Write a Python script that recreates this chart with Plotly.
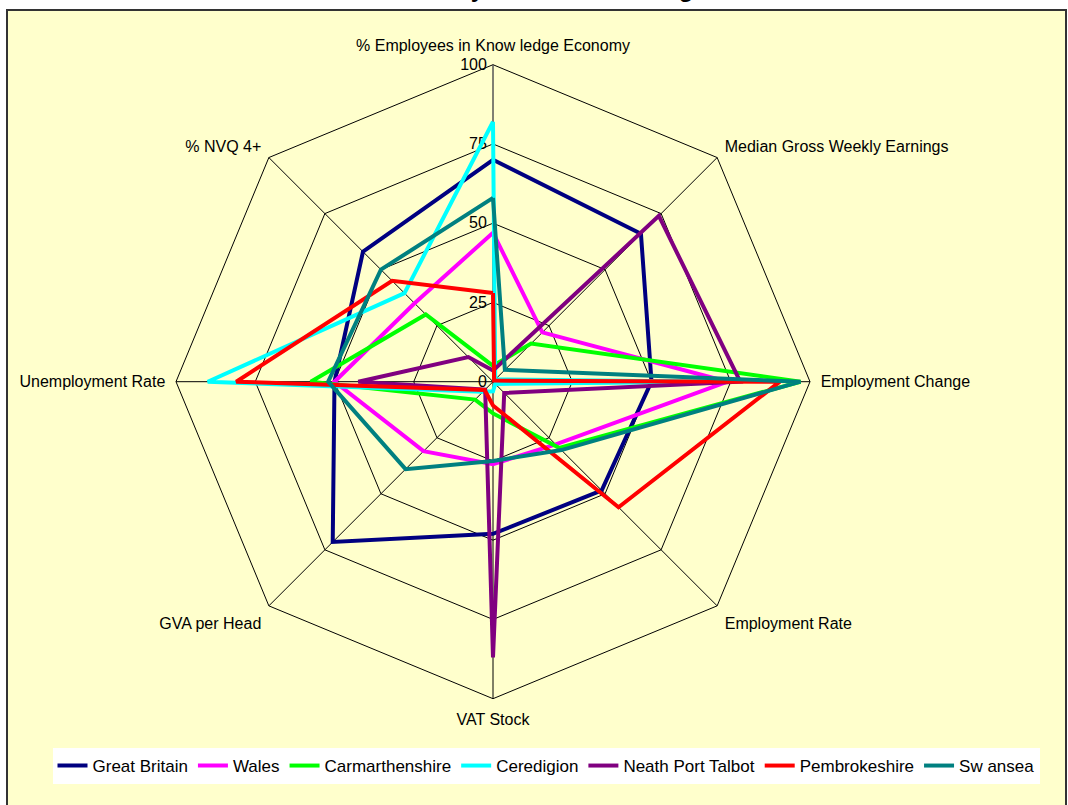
import plotly.graph_objects as go

categories = [
    "% Employees in Know ledge Economy",
    "Median Gross Weekly Earnings",
    "Employment Change",
    "Employment Rate",
    "VAT Stock",
    "GVA per Head",
    "Unemployment Rate",
    "% NVQ 4+",
]

great_britain = [70, 66, 50, 48.5, 48, 71.5, 50, 58]
wales = [47, 22, 74, 28, 26, 31, 50, 35]
carmarthenshire = [5, 17, 97, 29.5, 10, 8, 57.5, 30]
ceredigion = [82, 1, 70, 1, 3, 4.5, 90, 39.5]
neath_port_talbot = [3.5, 74, 78, 5, 87, 3.5, 42.5, 11]
pembrokeshire = [28, 0.5, 90.5, 56, 7.5, 3.7, 81, 45]
swansea = [58, 5.3, 97, 30.5, 25, 39, 52, 50]

series_names = ["Great Britain", "Wales", "Carmarthenshire", "Ceredigion",
                "Neath Port Talbot", "Pembrokeshire", "Sw ansea"]
series_values = [great_britain, wales, carmarthenshire, ceredigion,
                 neath_port_talbot, pembrokeshire, swansea]
series_colors = ["#000080", "#FF00FF", "#00FF00", "#00FFFF",
                 "#800080", "#FF0000", "#008080"]

radial_ticks = [0, 25, 50, 75, 100]
title_text = "Economy Indicator Ranking"

W, H = 1068, 805
FONT = "Arial, Liberation Sans, sans-serif"

fig = go.Figure()
for name, vals, col in zip(series_names, series_values, series_colors):
    fig.add_trace(go.Scatterpolar(
        r=vals + [vals[0]],
        theta=categories + [categories[0]],
        mode="lines",
        name=name,
        line=dict(color=col, width=4),
    ))

cx, cy, R = 493, 381.7, 317
fig.update_layout(
    width=W, height=H,
    margin=dict(l=0, r=0, t=0, b=0),
    paper_bgcolor="white",
    font=dict(family=FONT, size=16, color="black"),
    showlegend=True,
    legend=dict(
        orientation="h",
        x=546 / W, xanchor="center",
        y=1 - 766 / H, yanchor="middle",
        bgcolor="white",
        borderwidth=0,
        font=dict(family=FONT, size=17, color="black"),
        itemwidth=30,
    ),
    polar=dict(
        domain=dict(x=[(cx - R) / W, (cx + R) / W],
                    y=[1 - (cy + R) / H, 1 - (cy - R) / H]),
        bgcolor="rgba(0,0,0,0)",
        gridshape="linear",
        angularaxis=dict(
            direction="clockwise",
            rotation=90,
            showline=True,
            linecolor="black",
            linewidth=1,
            gridcolor="black",
            gridwidth=1,
            ticks="outside",
            ticklen=7,
            tickcolor="rgba(0,0,0,0)",
            tickfont=dict(family=FONT, size=16, color="black"),
            layer="below traces",
        ),
        radialaxis=dict(
            range=[0, 100],
            tickvals=radial_ticks,
            ticktext=[str(t) for t in radial_ticks],
            angle=90,
            side="counterclockwise",
            tickangle=90,
            showline=True,
            linecolor="#808080",
            linewidth=1,
            gridcolor="black",
            gridwidth=1,
            ticks="",
            tickfont=dict(family=FONT, size=16, color="black"),
            layer="below traces",
        ),
    ),
    shapes=[dict(
        type="rect", xref="paper", yref="paper",
        x0=7 / W, x1=1066 / W, y0=-0.01, y1=1 - 10 / H,
        fillcolor="#FFFFCC", line=dict(color="#333333", width=2),
        layer="below",
    )],
    annotations=[dict(
        text="<b>" + title_text + "</b>",
        xref="paper", yref="paper", x=534 / W, y=1,
        xanchor="center", yanchor="bottom", yshift=-4,
        showarrow=False,
        font=dict(family=FONT, size=24, color="black"),
    )],
)

fig.write_html("out.html",
               config={"displayModeBar": False},
               post_script="document.body.style.margin='0px';document.body.style.overflow='hidden';")
